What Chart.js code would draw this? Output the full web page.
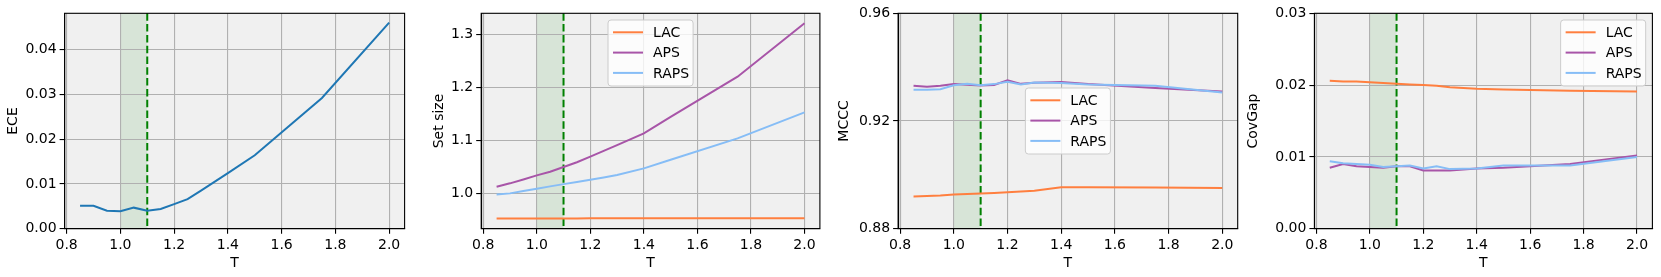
<!DOCTYPE html>
<html><head><meta charset="utf-8">
<script src="https://cdn.jsdelivr.net/npm/chart.js@4.4.0/dist/chart.umd.min.js"></script>
<style>
html,body{margin:0;padding:0;background:#fff;width:1661px;height:277px;overflow:hidden}
canvas{position:absolute;top:0}
</style></head><body>
<canvas id="c1"></canvas><canvas id="c2"></canvas><canvas id="c3"></canvas><canvas id="c4"></canvas>
<script>
// ---------------- data ----------------
const T = [0.85, 0.9, 0.95, 1.0, 1.05, 1.1, 1.15, 1.2, 1.25, 1.3, 1.4, 1.5, 1.75, 2.0];
const xTickValues = [0.8, 1.0, 1.2, 1.4, 1.6, 1.8, 2.0];

const eceValues = [0.0051, 0.0051, 0.0040, 0.0039, 0.0047, 0.0040, 0.0044, 0.0055, 0.0066, 0.0085, 0.0124, 0.0164, 0.0292, 0.0460];

const setSizeLAC  = [0.9533, 0.9533, 0.9534, 0.9534, 0.9535, 0.9535, 0.9535, 0.9536, 0.9536, 0.9536, 0.9537, 0.9537, 0.9538, 0.9539];
const setSizeAPS  = [1.0132, 1.0195, 1.0268, 1.0345, 1.0414, 1.0502, 1.0592, 1.0697, 1.0805, 1.0915, 1.1136, 1.1445, 1.2203, 1.3207];
const setSizeRAPS = [0.9987, 1.0006, 1.0050, 1.0094, 1.0138, 1.0180, 1.0220, 1.0262, 1.0306, 1.0352, 1.0477, 1.0640, 1.1042, 1.1531];

const mcccLAC  = [0.8920, 0.8921, 0.8923, 0.8927, 0.8929, 0.8931, 0.8933, 0.8935, 0.8938, 0.8941, 0.8954, 0.8954, 0.8953, 0.8951];
const mcccAPS  = [0.9331, 0.9327, 0.9331, 0.9337, 0.9335, 0.9332, 0.9334, 0.9351, 0.9338, 0.9342, 0.9345, 0.9337, 0.9323, 0.9310];
const mcccRAPS = [0.9316, 0.9316, 0.9318, 0.9333, 0.9338, 0.9333, 0.9337, 0.9346, 0.9336, 0.9343, 0.9341, 0.9336, 0.9331, 0.9306];

const covLAC  = [0.0206, 0.0205, 0.0205, 0.0204, 0.0203, 0.0202, 0.0201, 0.0200, 0.0199, 0.0197, 0.0195, 0.0194, 0.0192, 0.0191];
const covAPS  = [0.0085, 0.0090, 0.0087, 0.0086, 0.0085, 0.0087, 0.0087, 0.0081, 0.0081, 0.0081, 0.0084, 0.0085, 0.0090, 0.0102];
const covRAPS = [0.0094, 0.0091, 0.0090, 0.0089, 0.0086, 0.0087, 0.0088, 0.0084, 0.0087, 0.0083, 0.0084, 0.0088, 0.0088, 0.0100];

const eceTicks  = [0.00, 0.01, 0.02, 0.03, 0.04];
const setTicks  = [1.0, 1.1, 1.2, 1.3];
const mcccTicks = [0.88, 0.92, 0.96];
const covTicks  = [0.00, 0.01, 0.02, 0.03];

const seriesNames = ['LAC', 'APS', 'RAPS'];
const bandStart = 1.0, bandEnd = 1.1, selectedT = 1.1;

// ---------------- styling ----------------
const FONT = '"DejaVu Sans", "Liberation Sans", sans-serif';
const COLORS = { ECE: '#1f77b4', LAC: '#ff7f3f', APS: '#a855a8', RAPS: '#86bdf6' };
const CANVAS_H = 277, PLOT_TOP = 13.3, PLOT_BOTTOM = 228.7;
const X_MIN = 0.7925, X_MAX = 2.0575;

function mkSeries(vals) {
  return vals.map((v, i) => ({ x: T[i], y: v }));
}
function lineDs(label, vals, order) {
  return { label, data: mkSeries(vals), borderColor: COLORS[label], backgroundColor: COLORS[label],
           borderWidth: 2, pointRadius: 0, tension: 0, fill: false, order };
}

const decor = {
  id: 'decor',
  beforeDraw(chart) {
    const { ctx, chartArea: a, scales } = chart;
    ctx.save();
    ctx.fillStyle = '#f0f0f0';
    ctx.fillRect(a.left, a.top, a.right - a.left, a.bottom - a.top);
    const x0 = scales.x.getPixelForValue(bandStart), x1 = scales.x.getPixelForValue(bandEnd);
    ctx.fillStyle = 'rgba(0,128,0,0.1)';
    ctx.fillRect(x0, a.top, x1 - x0, a.bottom - a.top);
    ctx.restore();
  },
  beforeDatasetsDraw(chart) {
    const { ctx, chartArea: a, scales } = chart;
    const xs = scales.x.getPixelForValue(selectedT);
    ctx.save();
    ctx.strokeStyle = '#008000';
    ctx.lineWidth = 2;
    ctx.setLineDash([7.5, 3.3]);
    ctx.beginPath(); ctx.moveTo(xs, a.top); ctx.lineTo(xs, a.bottom); ctx.stroke();
    ctx.restore();
  },
  afterDraw(chart) {
    const { ctx, chartArea: a } = chart;
    ctx.save();
    ctx.strokeStyle = '#000';
    ctx.lineWidth = 1.1;
    ctx.strokeRect(a.left, a.top, a.right - a.left, a.bottom - a.top);
    ctx.restore();
    const pos = chart.options.plugins.decor && chart.options.plugins.decor.legend;
    if (pos) drawLegend(chart, pos);
  }
};

function drawLegend(chart, pos) {
  const { ctx, chartArea: a } = chart;
  const ds = chart.data.datasets;
  ctx.save();
  ctx.font = '14px ' + FONT;
  const tw = Math.max(...ds.map(d => ctx.measureText(d.label).width));
  const w = 5 + 30 + 10 + tw + 4, h = 66;
  let x, y;
  if (pos === 'upper center') { x = (a.left + a.right) / 2 - w / 2; y = a.top + 6.7; }
  else if (pos === 'center') { x = (a.left + a.right) / 2 - w / 2; y = (a.top + a.bottom) / 2 - h / 2; }
  else { x = a.right - 6.7 - w; y = a.top + 6.7; }
  ctx.beginPath();
  ctx.roundRect(x, y, w, h, 3);
  ctx.fillStyle = 'rgba(255,255,255,0.8)';
  ctx.fill();
  ctx.strokeStyle = '#cccccc';
  ctx.lineWidth = 1;
  ctx.stroke();
  ds.forEach((d, i) => {
    const ly = y + 12.3 + i * 20.3;
    ctx.strokeStyle = d.borderColor; ctx.lineWidth = 2;
    ctx.beginPath(); ctx.moveTo(x + 5, ly); ctx.lineTo(x + 35, ly); ctx.stroke();
    ctx.fillStyle = '#000'; ctx.textBaseline = 'middle'; ctx.textAlign = 'left';
    ctx.fillText(d.label, x + 45, ly + 1);
  });
  ctx.restore();
}

function makePanel(id, cfg) {
  const canvas = document.getElementById(id);
  const canvasLeft = cfg.titleX - 8.4;
  const yWidth = cfg.plotLeft - canvasLeft;
  const rightPad = 4;
  const width = Math.ceil(cfg.plotRight - canvasLeft + rightPad);
  canvas.width = width; canvas.height = CANVAS_H;
  canvas.style.left = canvasLeft + 'px';
  canvas.style.width = width + 'px'; canvas.style.height = CANVAS_H + 'px';
  const padRight = width - (cfg.plotRight - canvasLeft);
  return new Chart(canvas, {
    type: 'line',
    data: { datasets: cfg.datasets },
    plugins: [decor],
    options: {
      responsive: false, animation: false, devicePixelRatio: 1,
      layout: { padding: { top: PLOT_TOP, right: padRight, bottom: 0, left: 0 } },
      plugins: { legend: { display: false }, tooltip: { enabled: false }, decor: { legend: cfg.legend } },
      scales: {
        x: {
          type: 'linear', min: X_MIN, max: X_MAX,
          afterBuildTicks: s => { s.ticks = xTickValues.map(v => ({ value: v })); },
          afterFit: s => { s.height = CANVAS_H - PLOT_BOTTOM; },
          ticks: { autoSkip: false, maxRotation: 0, padding: 3, color: '#000',
                   font: { family: FONT, size: 14 }, callback: v => v.toFixed(1) },
          grid: { color: '#b0b0b0', lineWidth: 1.1, tickColor: '#000', tickLength: 5, tickWidth: 1.1 },
          border: { display: true, color: '#000', width: 1.1 },
          title: { display: true, text: 'T', color: '#000', font: { family: FONT, size: 14 },
                   padding: { top: 0, bottom: 4.8 } }
        },
        y: {
          type: 'linear', min: cfg.yMin, max: cfg.yMax,
          afterBuildTicks: s => { s.ticks = cfg.yTicks.map(v => ({ value: v })); },
          afterFit: s => { s.width = yWidth; },
          ticks: { autoSkip: false, padding: 3, color: '#000',
                   font: { family: FONT, size: 14 }, callback: v => v.toFixed(cfg.decimals) },
          grid: { color: '#b0b0b0', lineWidth: 1.1, tickColor: '#000', tickLength: 5, tickWidth: 1.1 },
          border: { display: true, color: '#000', width: 1.1 },
          title: { display: true, text: cfg.yLabel, color: '#000', font: { family: FONT, size: 14 },
                   padding: { top: 0, bottom: 0 } }
        }
      }
    }
  });
}

makePanel('c1', { plotLeft: 65, plotRight: 405, titleX: 13.8, yLabel: 'ECE',
  yMin: 0, yMax: 0.0481, yTicks: eceTicks, decimals: 2, legend: null,
  datasets: [lineDs('ECE', eceValues, 0)] });

makePanel('c2', { plotLeft: 481.3, plotRight: 820, titleX: 439.5, yLabel: 'Set size',
  yMin: 0.9341, yMax: 1.3396, yTicks: setTicks, decimals: 1, legend: 'upper center',
  datasets: [lineDs(seriesNames[0], setSizeLAC, 2), lineDs(seriesNames[1], setSizeAPS, 1), lineDs(seriesNames[2], setSizeRAPS, 0)] });

makePanel('c3', { plotLeft: 897.7, plotRight: 1237.3, titleX: 844, yLabel: 'MCCC',
  yMin: 0.88, yMax: 0.96, yTicks: mcccTicks, decimals: 2, legend: 'center',
  datasets: [lineDs(seriesNames[0], mcccLAC, 2), lineDs(seriesNames[1], mcccAPS, 1), lineDs(seriesNames[2], mcccRAPS, 0)] });

makePanel('c4', { plotLeft: 1314.7, plotRight: 1652.7, titleX: 1253.7, yLabel: 'CovGap',
  yMin: 0, yMax: 0.03, yTicks: covTicks, decimals: 2, legend: 'upper right',
  datasets: [lineDs(seriesNames[0], covLAC, 2), lineDs(seriesNames[1], covAPS, 1), lineDs(seriesNames[2], covRAPS, 0)] });
</script>
</body></html>
